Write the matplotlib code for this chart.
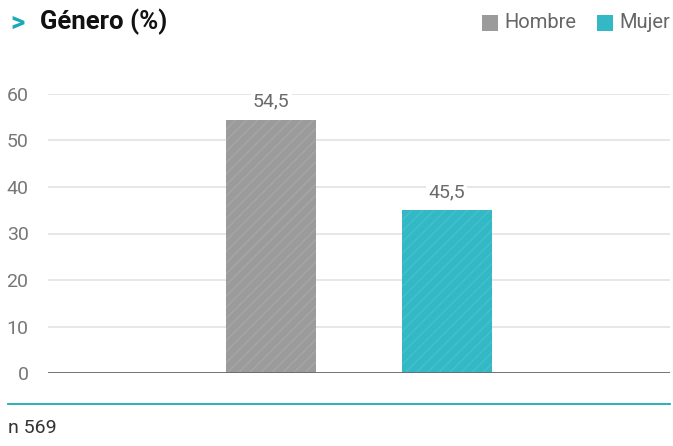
import matplotlib
matplotlib.use("Agg")
import matplotlib.pyplot as plt
from matplotlib.patches import Rectangle

categories = ["Hombre", "Mujer"]
bar_values = [54.5, 35.0]
value_labels = ["54,5", "45,5"]
yticks = [0, 10, 20, 30, 40, 50, 60]
title = "Género (%)"
note = "n 569"

colors = ["#9b9b9b", "#33b8c6"]
hatch_colors = ["#a6a6a6", "#45c0cc"]

plt.rcParams['font.family'] = ['Roboto', 'DejaVu Sans']
plt.rcParams['hatch.linewidth'] = 1.0

W, H = 673, 446
fig = plt.figure(figsize=(W/100, H/100), dpi=100)

ax_left, ax_right = 48, 670
y0, y60 = 373, 94
ax = fig.add_axes([ax_left/W, 1 - y0/H, (ax_right-ax_left)/W, (y0-y60)/H])
ax.set_ylim(0, 60)
ax.set_xlim(-1.27, 2.27)

positions = list(range(len(categories)))
for i, (p, v) in enumerate(zip(positions, bar_values)):
    ax.bar(p, v, width=0.515, color=colors[i], edgecolor=hatch_colors[i],
           linewidth=0, hatch='///', zorder=3)
    ax.text(p, v + 1.9, value_labels[i], ha='center', va='bottom', fontsize=14,
            color='#6a6a6a', zorder=4,
            bbox=dict(facecolor='white', edgecolor='none', pad=1.5))

ax.set_yticks(yticks)
ax.set_yticklabels([str(t) for t in yticks], fontsize=14, color='#777777')
ax.set_xticks([])
ax.tick_params(axis='y', length=0, pad=14)
ax.grid(axis='y', color='#e3e3e3', linewidth=1.2, zorder=0)
ax.set_axisbelow(True)
for s in ax.spines.values():
    s.set_visible(False)
ax.axhline(0, color='#6a6a6a', linewidth=1.3, zorder=5)

# title
fig.text(10/W, 1 - 23/H, ">", fontsize=20, fontweight='bold', color='#1aa9b8', va='center', ha='left')
fig.text(40/W, 1 - 22/H, title, fontsize=18.5, fontweight='bold', color='#111111', va='center', ha='left')

# legend
leg_items = [(482, categories[0], colors[0]), (597, categories[1], colors[1])]
for x, lab, c in leg_items:
    fig.patches.append(Rectangle((x/W, 1 - 31/H), 16/W, 16/H, transform=fig.transFigure,
                                 facecolor=c, edgecolor='none'))
    fig.text((x + 22)/W, 1 - 23/H, lab, fontsize=14.5, color='#666666', va='center', ha='left')

# bottom teal line and note
fig.add_artist(plt.Line2D([8/W, 670/W], [1 - 404/H, 1 - 404/H], color='#1aa9b8', linewidth=1.3,
                          transform=fig.transFigure))
fig.text(8/W, 1 - 428/H, note, fontsize=14, color='#333333', va='center', ha='left')

fig.savefig("out.png", dpi=100)
